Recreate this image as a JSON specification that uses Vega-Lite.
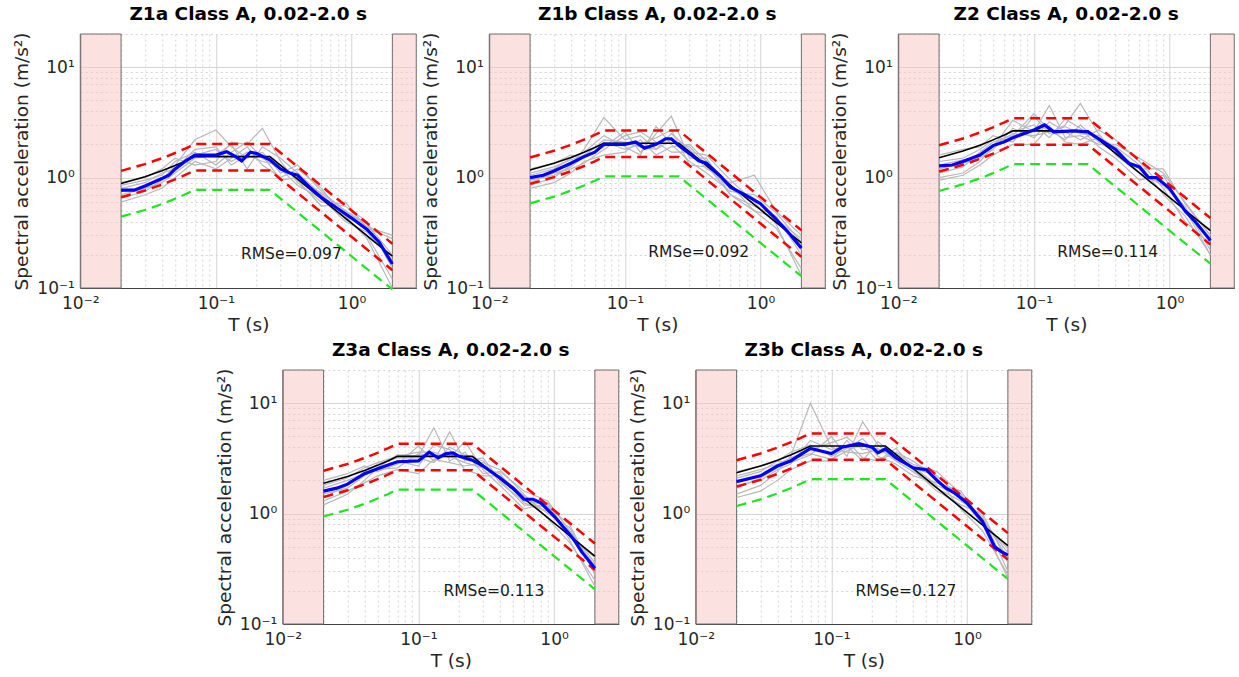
{
"$schema":"https://vega.github.io/schema/vega-lite/v6.json",
"padding":{"top":4,"left":12,"right":0,"bottom":0},
"background":"white",
"config":{"view":{"stroke":null},"font":"DejaVu Sans",
"axis":{"labelFontSize":17,"titleFontSize":18.5,"labelColor":"#262626","titleColor":"#262626","titleFontWeight":"normal","labelPadding":6,"titlePadding":5,"ticks":false,"domainColor":"#404040","labelFlush":false,"labelOverlap":false,"labelBound":false},
"axisX":{"labelPadding":7,"titlePadding":4},
"title":{"fontSize":18.5,"fontWeight":"bold","color":"#000000","offset":2,"anchor":"middle"},
"text":{"font":"DejaVu Sans"}},
"datasets":{
"rect":[{"T":0.01,"T2":0.02,"v":0.1,"v2":20},{"T":2,"T2":3,"v":0.1,"v2":20}],
"txt":[{"p":"Z1a","T":0.36,"v":0.205,"label":"RMSe=0.097"},{"p":"Z1b","T":0.35,"v":0.21,"label":"RMSe=0.092"},{"p":"Z2","T":0.35,"v":0.21,"label":"RMSe=0.114"},{"p":"Z3a","T":0.36,"v":0.2,"label":"RMSe=0.113"},{"p":"Z3b","T":0.355,"v":0.2,"label":"RMSe=0.127"}],
"tgt":[
{"p":"Z1a","T":0.02,"tgt":0.885,"up":1.151,"lo":0.664,"half":0.443},
{"p":"Z1a","T":0.03,"tgt":1.018,"up":1.324,"lo":0.764,"half":0.509},
{"p":"Z1a","T":0.04,"tgt":1.152,"up":1.497,"lo":0.864,"half":0.576},
{"p":"Z1a","T":0.05,"tgt":1.285,"up":1.67,"lo":0.964,"half":0.643},
{"p":"Z1a","T":0.06,"tgt":1.417,"up":1.842,"lo":1.063,"half":0.709},
{"p":"Z1a","T":0.07,"tgt":1.55,"up":2.015,"lo":1.163,"half":0.775},
{"p":"Z1a","T":0.25,"tgt":1.55,"up":2.015,"lo":1.163,"half":0.775},
{"p":"Z1a","T":0.3,"tgt":1.291,"up":1.679,"lo":0.968,"half":0.646},
{"p":"Z1a","T":0.4,"tgt":0.969,"up":1.259,"lo":0.727,"half":0.484},
{"p":"Z1a","T":0.5,"tgt":0.775,"up":1.008,"lo":0.581,"half":0.388},
{"p":"Z1a","T":0.7,"tgt":0.553,"up":0.719,"lo":0.415,"half":0.277},
{"p":"Z1a","T":1.0,"tgt":0.3875,"up":0.504,"lo":0.291,"half":0.194},
{"p":"Z1a","T":1.5,"tgt":0.258,"up":0.336,"lo":0.194,"half":0.129},
{"p":"Z1a","T":2.0,"tgt":0.194,"up":0.252,"lo":0.145,"half":0.097},
{"p":"Z1b","T":0.02,"tgt":1.171,"up":1.522,"lo":0.878,"half":0.585},
{"p":"Z1b","T":0.03,"tgt":1.347,"up":1.751,"lo":1.01,"half":0.673},
{"p":"Z1b","T":0.04,"tgt":1.523,"up":1.98,"lo":1.142,"half":0.762},
{"p":"Z1b","T":0.05,"tgt":1.699,"up":2.209,"lo":1.274,"half":0.85},
{"p":"Z1b","T":0.06,"tgt":1.874,"up":2.436,"lo":1.405,"half":0.937},
{"p":"Z1b","T":0.07,"tgt":2.05,"up":2.665,"lo":1.538,"half":1.025},
{"p":"Z1b","T":0.25,"tgt":2.05,"up":2.665,"lo":1.538,"half":1.025},
{"p":"Z1b","T":0.3,"tgt":1.708,"up":2.22,"lo":1.281,"half":0.854},
{"p":"Z1b","T":0.4,"tgt":1.281,"up":1.666,"lo":0.961,"half":0.641},
{"p":"Z1b","T":0.5,"tgt":1.025,"up":1.333,"lo":0.769,"half":0.513},
{"p":"Z1b","T":0.7,"tgt":0.732,"up":0.951,"lo":0.549,"half":0.366},
{"p":"Z1b","T":1.0,"tgt":0.5125,"up":0.666,"lo":0.384,"half":0.256},
{"p":"Z1b","T":1.5,"tgt":0.342,"up":0.444,"lo":0.256,"half":0.171},
{"p":"Z1b","T":2.0,"tgt":0.256,"up":0.333,"lo":0.192,"half":0.128},
{"p":"Z2","T":0.02,"tgt":1.513,"up":1.967,"lo":1.135,"half":0.757},
{"p":"Z2","T":0.03,"tgt":1.741,"up":2.264,"lo":1.306,"half":0.871},
{"p":"Z2","T":0.04,"tgt":1.969,"up":2.56,"lo":1.477,"half":0.985},
{"p":"Z2","T":0.05,"tgt":2.197,"up":2.856,"lo":1.648,"half":1.098},
{"p":"Z2","T":0.06,"tgt":2.422,"up":3.149,"lo":1.817,"half":1.211},
{"p":"Z2","T":0.07,"tgt":2.65,"up":3.445,"lo":1.988,"half":1.325},
{"p":"Z2","T":0.25,"tgt":2.65,"up":3.445,"lo":1.988,"half":1.325},
{"p":"Z2","T":0.3,"tgt":2.207,"up":2.87,"lo":1.655,"half":1.104},
{"p":"Z2","T":0.4,"tgt":1.656,"up":2.153,"lo":1.242,"half":0.828},
{"p":"Z2","T":0.5,"tgt":1.325,"up":1.723,"lo":0.994,"half":0.663},
{"p":"Z2","T":0.7,"tgt":0.946,"up":1.23,"lo":0.71,"half":0.473},
{"p":"Z2","T":1.0,"tgt":0.6625,"up":0.861,"lo":0.497,"half":0.331},
{"p":"Z2","T":1.5,"tgt":0.442,"up":0.574,"lo":0.331,"half":0.221},
{"p":"Z2","T":2.0,"tgt":0.331,"up":0.431,"lo":0.248,"half":0.166},
{"p":"Z3a","T":0.02,"tgt":1.884,"up":2.449,"lo":1.413,"half":0.942},
{"p":"Z3a","T":0.03,"tgt":2.168,"up":2.818,"lo":1.626,"half":1.084},
{"p":"Z3a","T":0.04,"tgt":2.452,"up":3.187,"lo":1.839,"half":1.226},
{"p":"Z3a","T":0.05,"tgt":2.736,"up":3.556,"lo":2.052,"half":1.368},
{"p":"Z3a","T":0.06,"tgt":3.016,"up":3.921,"lo":2.262,"half":1.508},
{"p":"Z3a","T":0.07,"tgt":3.3,"up":4.29,"lo":2.475,"half":1.65},
{"p":"Z3a","T":0.25,"tgt":3.3,"up":4.29,"lo":2.475,"half":1.65},
{"p":"Z3a","T":0.3,"tgt":2.749,"up":3.573,"lo":2.062,"half":1.374},
{"p":"Z3a","T":0.4,"tgt":2.063,"up":2.681,"lo":1.547,"half":1.031},
{"p":"Z3a","T":0.5,"tgt":1.65,"up":2.145,"lo":1.238,"half":0.825},
{"p":"Z3a","T":0.7,"tgt":1.178,"up":1.532,"lo":0.884,"half":0.589},
{"p":"Z3a","T":1.0,"tgt":0.825,"up":1.073,"lo":0.619,"half":0.4125},
{"p":"Z3a","T":1.5,"tgt":0.55,"up":0.715,"lo":0.413,"half":0.275},
{"p":"Z3a","T":2.0,"tgt":0.4125,"up":0.536,"lo":0.309,"half":0.206},
{"p":"Z3b","T":0.02,"tgt":2.341,"up":3.043,"lo":1.756,"half":1.171},
{"p":"Z3b","T":0.03,"tgt":2.694,"up":3.502,"lo":2.02,"half":1.347},
{"p":"Z3b","T":0.04,"tgt":3.046,"up":3.96,"lo":2.285,"half":1.523},
{"p":"Z3b","T":0.05,"tgt":3.399,"up":4.418,"lo":2.549,"half":1.699},
{"p":"Z3b","T":0.06,"tgt":3.747,"up":4.872,"lo":2.81,"half":1.874},
{"p":"Z3b","T":0.07,"tgt":4.1,"up":5.33,"lo":3.075,"half":2.05},
{"p":"Z3b","T":0.25,"tgt":4.1,"up":5.33,"lo":3.075,"half":2.05},
{"p":"Z3b","T":0.3,"tgt":3.415,"up":4.44,"lo":2.561,"half":1.708},
{"p":"Z3b","T":0.4,"tgt":2.563,"up":3.331,"lo":1.922,"half":1.281},
{"p":"Z3b","T":0.5,"tgt":2.05,"up":2.665,"lo":1.538,"half":1.025},
{"p":"Z3b","T":0.7,"tgt":1.464,"up":1.903,"lo":1.098,"half":0.732},
{"p":"Z3b","T":1.0,"tgt":1.025,"up":1.333,"lo":0.769,"half":0.5125},
{"p":"Z3b","T":1.5,"tgt":0.683,"up":0.888,"lo":0.513,"half":0.342},
{"p":"Z3b","T":2.0,"tgt":0.5125,"up":0.666,"lo":0.384,"half":0.256}
],
"mean":[
{"p":"Z1a","T":0.02,"v":0.77},{"p":"Z1a","T":0.025,"v":0.77},{"p":"Z1a","T":0.03,"v":0.84},{"p":"Z1a","T":0.04,"v":0.98},{"p":"Z1a","T":0.045,"v":1.05},{"p":"Z1a","T":0.05,"v":1.2},{"p":"Z1a","T":0.06,"v":1.42},{"p":"Z1a","T":0.07,"v":1.6},{"p":"Z1a","T":0.1,"v":1.6},{"p":"Z1a","T":0.12,"v":1.72},{"p":"Z1a","T":0.14,"v":1.55},{"p":"Z1a","T":0.155,"v":1.42},{"p":"Z1a","T":0.18,"v":1.7},{"p":"Z1a","T":0.2,"v":1.65},{"p":"Z1a","T":0.25,"v":1.45},{"p":"Z1a","T":0.3,"v":1.2},{"p":"Z1a","T":0.35,"v":1.1},{"p":"Z1a","T":0.4,"v":1.05},{"p":"Z1a","T":0.5,"v":0.8},{"p":"Z1a","T":0.6,"v":0.66},{"p":"Z1a","T":0.8,"v":0.52},{"p":"Z1a","T":1.0,"v":0.43},{"p":"Z1a","T":1.3,"v":0.34},{"p":"Z1a","T":1.6,"v":0.26},{"p":"Z1a","T":2.0,"v":0.165},
{"p":"Z1b","T":0.02,"v":1.0},{"p":"Z1b","T":0.025,"v":1.05},{"p":"Z1b","T":0.03,"v":1.15},{"p":"Z1b","T":0.04,"v":1.35},{"p":"Z1b","T":0.05,"v":1.55},{"p":"Z1b","T":0.06,"v":1.7},{"p":"Z1b","T":0.07,"v":2.0},{"p":"Z1b","T":0.1,"v":2.0},{"p":"Z1b","T":0.12,"v":2.1},{"p":"Z1b","T":0.14,"v":1.85},{"p":"Z1b","T":0.17,"v":2.0},{"p":"Z1b","T":0.2,"v":2.25},{"p":"Z1b","T":0.22,"v":2.25},{"p":"Z1b","T":0.25,"v":1.95},{"p":"Z1b","T":0.3,"v":1.65},{"p":"Z1b","T":0.35,"v":1.42},{"p":"Z1b","T":0.4,"v":1.35},{"p":"Z1b","T":0.5,"v":1.05},{"p":"Z1b","T":0.6,"v":0.82},{"p":"Z1b","T":0.8,"v":0.68},{"p":"Z1b","T":1.0,"v":0.58},{"p":"Z1b","T":1.3,"v":0.42},{"p":"Z1b","T":1.6,"v":0.32},{"p":"Z1b","T":2.0,"v":0.23},
{"p":"Z2","T":0.02,"v":1.28},{"p":"Z2","T":0.025,"v":1.3},{"p":"Z2","T":0.03,"v":1.4},{"p":"Z2","T":0.04,"v":1.6},{"p":"Z2","T":0.05,"v":1.95},{"p":"Z2","T":0.06,"v":2.1},{"p":"Z2","T":0.07,"v":2.3},{"p":"Z2","T":0.1,"v":2.7},{"p":"Z2","T":0.12,"v":3.0},{"p":"Z2","T":0.14,"v":2.6},{"p":"Z2","T":0.2,"v":2.65},{"p":"Z2","T":0.25,"v":2.6},{"p":"Z2","T":0.3,"v":2.25},{"p":"Z2","T":0.4,"v":1.8},{"p":"Z2","T":0.5,"v":1.35},{"p":"Z2","T":0.6,"v":1.25},{"p":"Z2","T":0.7,"v":1.0},{"p":"Z2","T":0.8,"v":1.0},{"p":"Z2","T":1.0,"v":0.8},{"p":"Z2","T":1.3,"v":0.5},{"p":"Z2","T":1.6,"v":0.38},{"p":"Z2","T":2.0,"v":0.27},
{"p":"Z3a","T":0.02,"v":1.6},{"p":"Z3a","T":0.025,"v":1.7},{"p":"Z3a","T":0.03,"v":1.85},{"p":"Z3a","T":0.04,"v":2.3},{"p":"Z3a","T":0.05,"v":2.55},{"p":"Z3a","T":0.07,"v":2.95},{"p":"Z3a","T":0.1,"v":3.0},{"p":"Z3a","T":0.12,"v":3.6},{"p":"Z3a","T":0.14,"v":3.2},{"p":"Z3a","T":0.16,"v":3.5},{"p":"Z3a","T":0.18,"v":3.55},{"p":"Z3a","T":0.2,"v":3.3},{"p":"Z3a","T":0.25,"v":3.05},{"p":"Z3a","T":0.3,"v":2.7},{"p":"Z3a","T":0.4,"v":2.1},{"p":"Z3a","T":0.5,"v":1.7},{"p":"Z3a","T":0.6,"v":1.35},{"p":"Z3a","T":0.7,"v":1.35},{"p":"Z3a","T":0.8,"v":1.25},{"p":"Z3a","T":1.0,"v":0.95},{"p":"Z3a","T":1.3,"v":0.65},{"p":"Z3a","T":1.4,"v":0.58},{"p":"Z3a","T":1.6,"v":0.45},{"p":"Z3a","T":2.0,"v":0.32},
{"p":"Z3b","T":0.02,"v":1.95},{"p":"Z3b","T":0.03,"v":2.2},{"p":"Z3b","T":0.04,"v":2.7},{"p":"Z3b","T":0.05,"v":3.0},{"p":"Z3b","T":0.07,"v":3.9},{"p":"Z3b","T":0.1,"v":3.5},{"p":"Z3b","T":0.12,"v":4.0},{"p":"Z3b","T":0.16,"v":4.3},{"p":"Z3b","T":0.2,"v":4.0},{"p":"Z3b","T":0.22,"v":3.55},{"p":"Z3b","T":0.25,"v":3.85},{"p":"Z3b","T":0.3,"v":3.2},{"p":"Z3b","T":0.4,"v":2.6},{"p":"Z3b","T":0.5,"v":2.5},{"p":"Z3b","T":0.6,"v":2.0},{"p":"Z3b","T":0.7,"v":1.7},{"p":"Z3b","T":0.8,"v":1.55},{"p":"Z3b","T":1.0,"v":1.25},{"p":"Z3b","T":1.3,"v":0.85},{"p":"Z3b","T":1.6,"v":0.5},{"p":"Z3b","T":1.8,"v":0.45},{"p":"Z3b","T":2.0,"v":0.42}
],
"gray":[
{"p":"Z1a","T":0.02,"a":0.65,"b":0.9,"c":0.6,"d":0.8,"e":0.7,"f":0.85,"g":0.75},
{"p":"Z1a","T":0.03,"a":0.75,"b":1.0,"c":0.7,"d":0.9,"e":0.8,"f":0.95,"g":0.8},
{"p":"Z1a","T":0.04,"a":0.95,"b":1.2,"c":0.8,"d":1.1,"e":0.9,"f":1.05,"g":1.0},
{"p":"Z1a","T":0.05,"a":1.3,"b":1.5,"c":1.0,"d":1.2,"e":1.1,"f":1.4,"g":1.15},
{"p":"Z1a","T":0.07,"a":2.2,"b":1.3,"c":1.4,"d":1.8,"e":1.5,"f":1.7,"g":1.6},
{"p":"Z1a","T":0.1,"a":2.7,"b":1.4,"c":1.2,"d":1.9,"e":1.6,"f":1.3,"g":1.8},
{"p":"Z1a","T":0.13,"a":1.9,"b":2.1,"c":1.5,"d":1.3,"e":2.0,"f":1.7,"g":1.4},
{"p":"Z1a","T":0.17,"a":1.5,"b":2.0,"c":1.9,"d":1.6,"e":1.2,"f":2.1,"g":1.7},
{"p":"Z1a","T":0.22,"a":1.7,"b":2.8,"c":1.3,"d":1.4,"e":1.9,"f":1.5,"g":1.6},
{"p":"Z1a","T":0.3,"a":1.1,"b":1.4,"c":1.0,"d":1.3,"e":1.5,"f":1.2,"g":0.95},
{"p":"Z1a","T":0.4,"a":1.3,"b":0.9,"c":1.2,"d":0.95,"e":1.1,"f":0.85,"g":1.0},
{"p":"Z1a","T":0.6,"a":0.75,"b":0.6,"c":0.8,"d":0.55,"e":0.7,"f":0.65,"g":0.72},
{"p":"Z1a","T":0.9,"a":0.5,"b":0.55,"c":0.42,"d":0.6,"e":0.45,"f":0.4,"g":0.5},
{"p":"Z1a","T":1.3,"a":0.38,"b":0.4,"c":0.3,"d":0.35,"e":0.28,"f":0.32,"g":0.36},
{"p":"Z1a","T":2.0,"a":0.2,"b":0.15,"c":0.12,"d":0.28,"e":0.1,"f":0.18,"g":0.3},
{"p":"Z1b","T":0.02,"a":0.85,"b":1.2,"c":0.8,"d":1.05,"e":0.9,"f":1.1,"g":0.95},
{"p":"Z1b","T":0.03,"a":1.0,"b":1.35,"c":0.9,"d":1.2,"e":1.1,"f":1.25,"g":1.05},
{"p":"Z1b","T":0.04,"a":1.3,"b":1.6,"c":1.1,"d":1.5,"e":1.2,"f":1.45,"g":1.25},
{"p":"Z1b","T":0.05,"a":1.8,"b":1.5,"c":1.4,"d":1.7,"e":1.35,"f":1.6,"g":1.55},
{"p":"Z1b","T":0.07,"a":3.5,"b":1.9,"c":1.6,"d":2.4,"e":1.8,"f":2.1,"g":2.2},
{"p":"Z1b","T":0.1,"a":2.2,"b":2.6,"c":1.7,"d":1.9,"e":2.4,"f":1.8,"g":2.1},
{"p":"Z1b","T":0.13,"a":2.4,"b":1.7,"c":2.2,"d":1.6,"e":2.6,"f":2.0,"g":1.9},
{"p":"Z1b","T":0.17,"a":1.8,"b":2.5,"c":1.6,"d":2.9,"e":2.1,"f":2.3,"g":1.8},
{"p":"Z1b","T":0.22,"a":2.5,"b":3.6,"c":1.9,"d":2.0,"e":1.7,"f":2.7,"g":2.2},
{"p":"Z1b","T":0.3,"a":1.8,"b":1.5,"c":2.0,"d":1.4,"e":1.7,"f":1.3,"g":1.9},
{"p":"Z1b","T":0.4,"a":1.2,"b":1.5,"c":1.4,"d":1.1,"e":1.6,"f":1.25,"g":1.3},
{"p":"Z1b","T":0.6,"a":0.9,"b":0.7,"c":0.85,"d":0.75,"e":0.95,"f":0.8,"g":0.7},
{"p":"Z1b","T":0.9,"a":1.05,"b":0.55,"c":0.5,"d":0.7,"e":0.6,"f":0.65,"g":0.5},
{"p":"Z1b","T":1.3,"a":0.5,"b":0.45,"c":0.35,"d":0.48,"e":0.38,"f":0.42,"g":0.44},
{"p":"Z1b","T":2.0,"a":0.3,"b":0.2,"c":0.15,"d":0.26,"e":0.13,"f":0.28,"g":0.22},
{"p":"Z2","T":0.02,"a":1.0,"b":1.6,"c":0.95,"d":1.4,"e":1.2,"f":1.1,"g":1.3},
{"p":"Z2","T":0.03,"a":1.1,"b":1.8,"c":1.05,"d":1.5,"e":1.35,"f":1.25,"g":1.45},
{"p":"Z2","T":0.04,"a":1.4,"b":1.9,"c":1.3,"d":1.8,"e":1.5,"f":1.7,"g":1.55},
{"p":"Z2","T":0.05,"a":1.9,"b":2.4,"c":1.6,"d":2.2,"e":1.8,"f":2.1,"g":2.0},
{"p":"Z2","T":0.07,"a":3.3,"b":2.1,"c":2.0,"d":2.6,"e":2.8,"f":2.4,"g":2.5},
{"p":"Z2","T":0.1,"a":2.6,"b":3.6,"c":2.0,"d":3.0,"e":2.3,"f":3.8,"g":2.4},
{"p":"Z2","T":0.13,"a":4.5,"b":2.5,"c":2.9,"d":2.3,"e":3.2,"f":2.7,"g":2.6},
{"p":"Z2","T":0.17,"a":2.3,"b":3.0,"c":2.1,"d":3.4,"e":2.6,"f":2.2,"g":2.9},
{"p":"Z2","T":0.22,"a":2.4,"b":4.7,"c":2.0,"d":2.8,"e":2.2,"f":3.0,"g":2.5},
{"p":"Z2","T":0.3,"a":2.0,"b":2.5,"c":2.3,"d":1.9,"e":2.7,"f":2.1,"g":2.4},
{"p":"Z2","T":0.4,"a":2.0,"b":1.6,"c":1.9,"d":1.5,"e":2.2,"f":1.7,"g":1.8},
{"p":"Z2","T":0.6,"a":1.5,"b":1.1,"c":1.3,"d":0.95,"e":1.4,"f":1.2,"g":1.1},
{"p":"Z2","T":0.9,"a":1.1,"b":0.85,"c":0.7,"d":1.05,"e":0.8,"f":1.2,"g":0.9},
{"p":"Z2","T":1.3,"a":0.6,"b":0.55,"c":0.45,"d":0.48,"e":0.4,"f":0.58,"g":0.52},
{"p":"Z2","T":2.0,"a":0.3,"b":0.22,"c":0.2,"d":0.34,"e":0.25,"f":0.3,"g":0.2},
{"p":"Z3a","T":0.02,"a":1.2,"b":2.0,"c":1.3,"d":1.8,"e":1.5,"f":1.4,"g":1.7},
{"p":"Z3a","T":0.03,"a":1.5,"b":2.3,"c":1.6,"d":2.1,"e":1.7,"f":1.8,"g":2.0},
{"p":"Z3a","T":0.04,"a":2.0,"b":2.7,"c":1.9,"d":2.6,"e":2.2,"f":2.4,"g":2.3},
{"p":"Z3a","T":0.05,"a":2.6,"b":2.4,"c":2.2,"d":2.9,"e":2.6,"f":2.8,"g":2.5},
{"p":"Z3a","T":0.07,"a":3.4,"b":2.8,"c":2.5,"d":3.3,"e":3.0,"f":3.2,"g":2.6},
{"p":"Z3a","T":0.1,"a":3.3,"b":4.1,"c":2.3,"d":3.6,"e":2.7,"f":3.2,"g":3.5},
{"p":"Z3a","T":0.13,"a":6.0,"b":3.0,"c":3.1,"d":3.6,"e":4.2,"f":2.9,"g":3.3},
{"p":"Z3a","T":0.17,"a":3.0,"b":5.5,"c":2.9,"d":3.2,"e":3.8,"f":4.0,"g":3.3},
{"p":"Z3a","T":0.22,"a":3.6,"b":3.0,"c":2.7,"d":4.5,"e":2.5,"f":3.4,"g":2.9},
{"p":"Z3a","T":0.3,"a":2.3,"b":3.2,"c":2.9,"d":2.5,"e":2.2,"f":3.0,"g":2.6},
{"p":"Z3a","T":0.4,"a":2.4,"b":2.0,"c":2.5,"d":1.8,"e":2.2,"f":1.9,"g":2.3},
{"p":"Z3a","T":0.6,"a":1.6,"b":1.2,"c":1.5,"d":1.1,"e":1.45,"f":1.3,"g":1.25},
{"p":"Z3a","T":0.9,"a":1.3,"b":1.15,"c":0.9,"d":1.25,"e":1.0,"f":1.2,"g":1.05},
{"p":"Z3a","T":1.3,"a":0.7,"b":0.8,"c":0.55,"d":0.62,"e":0.75,"f":0.58,"g":0.68},
{"p":"Z3a","T":2.0,"a":0.36,"b":0.28,"c":0.25,"d":0.4,"e":0.3,"f":0.22,"g":0.34},
{"p":"Z3b","T":0.02,"a":1.5,"b":2.4,"c":1.4,"d":2.1,"e":1.8,"f":1.7,"g":2.2},
{"p":"Z3b","T":0.03,"a":1.8,"b":2.7,"c":1.6,"d":2.4,"e":2.0,"f":2.1,"g":2.5},
{"p":"Z3b","T":0.04,"a":2.4,"b":3.0,"c":2.0,"d":3.0,"e":2.5,"f":2.6,"g":2.8},
{"p":"Z3b","T":0.05,"a":3.3,"b":2.9,"c":2.5,"d":3.6,"e":2.8,"f":3.1,"g":3.2},
{"p":"Z3b","T":0.07,"a":10.0,"b":3.4,"c":3.0,"d":4.2,"e":4.6,"f":3.5,"g":3.8},
{"p":"Z3b","T":0.1,"a":4.0,"b":5.0,"c":3.0,"d":3.3,"e":3.8,"f":3.1,"g":4.4},
{"p":"Z3b","T":0.13,"a":3.6,"b":3.3,"c":4.6,"d":3.9,"e":4.1,"f":3.7,"g":4.9},
{"p":"Z3b","T":0.17,"a":3.5,"b":6.8,"c":3.2,"d":4.8,"e":3.0,"f":4.3,"g":3.8},
{"p":"Z3b","T":0.22,"a":3.8,"b":4.2,"c":3.0,"d":3.3,"e":4.5,"f":3.0,"g":3.9},
{"p":"Z3b","T":0.3,"a":3.5,"b":3.0,"c":3.6,"d":2.8,"e":3.3,"f":3.9,"g":3.0},
{"p":"Z3b","T":0.4,"a":2.8,"b":2.4,"c":3.0,"d":2.2,"e":2.5,"f":2.6,"g":2.7},
{"p":"Z3b","T":0.6,"a":2.4,"b":1.7,"c":2.1,"d":1.9,"e":1.6,"f":2.2,"g":1.8},
{"p":"Z3b","T":0.9,"a":1.5,"b":1.3,"c":1.1,"d":1.6,"e":1.2,"f":1.4,"g":1.45},
{"p":"Z3b","T":1.3,"a":0.9,"b":0.95,"c":0.7,"d":0.85,"e":1.0,"f":0.8,"g":0.88},
{"p":"Z3b","T":2.0,"a":0.4,"b":0.3,"c":0.28,"d":0.48,"e":0.36,"f":0.26,"g":0.44}
]
},
"vconcat":[
{"hconcat":[
{"width":336,"height":254,"title":"Z1a Class A, 0.02-2.0 s",
"encoding":{"x":{"field":"T","type":"quantitative","scale":{"type":"log","domain":[0.01,3],"nice":false},"axis":{"title":"T (s)","values":[0.01,0.02,0.03,0.04,0.05,0.06,0.07,0.08,0.09,0.1,0.2,0.3,0.4,0.5,0.6,0.7,0.8,0.9,1,2,3],"labelExpr":"datum.value==0.01?'10⁻²':datum.value==0.1?'10⁻¹':datum.value==1?'10⁰':''","grid":true,"gridColor":"#d4d4d4","gridDash":{"condition":{"test":"datum.value==0.01||datum.value==0.1||datum.value==1","value":[]},"value":[2,3]}}},
"y":{"field":"v","type":"quantitative","scale":{"type":"log","domain":[0.1,20],"nice":false},"axis":{"title":"Spectral acceleration (m/s²)","values":[0.1,0.2,0.3,0.4,0.5,0.6,0.7,0.8,0.9,1,2,3,4,5,6,7,8,9,10,20],"labelExpr":"datum.value==0.1?'10⁻¹':datum.value==1?'10⁰':datum.value==10?'10¹':''","grid":true,"gridColor":"#d4d4d4","gridDash":{"condition":{"test":"datum.value==0.1||datum.value==1||datum.value==10","value":[]},"value":[2,3]}}}},
"layer":[
{"data":{"name":"rect"},"mark":{"type":"rect","fill":"#f9c4c4","fillOpacity":0.5,"stroke":"#707070","strokeWidth":1},"encoding":{"x2":{"field":"T2"},"y2":{"field":"v2"}}},
{"data":{"name":"gray"},"transform":[{"filter":"datum.p=='Z1a'"},{"fold":["a","b","c","d","e","f","g"],"as":["k","v"]}],"mark":{"type":"line","color":"#b8b8b8","strokeWidth":1.2},"encoding":{"detail":{"field":"k"}}},
{"data":{"name":"tgt"},"transform":[{"filter":"datum.p=='Z1a'"},{"fold":["tgt"],"as":["k","v"]}],"mark":{"type":"line","color":"#000000","strokeWidth":1.6}},
{"data":{"name":"tgt"},"transform":[{"filter":"datum.p=='Z1a'"},{"fold":["up","lo"],"as":["k","v"]}],"mark":{"type":"line","color":"#ff0000","strokeWidth":2.5,"strokeDash":[10,6]},"encoding":{"detail":{"field":"k"}}},
{"data":{"name":"tgt"},"transform":[{"filter":"datum.p=='Z1a'"},{"fold":["half"],"as":["k","v"]}],"mark":{"type":"line","color":"#1ee61e","strokeWidth":2.2,"strokeDash":[10,6]}},
{"data":{"name":"mean"},"transform":[{"filter":"datum.p=='Z1a'"}],"mark":{"type":"line","color":"#0000ff","strokeWidth":3.2}},
{"data":{"name":"txt"},"transform":[{"filter":"datum.p=='Z1a'"}],"mark":{"type":"text","fontSize":15.5,"color":"#1a1a1a"},"encoding":{"text":{"field":"label"}}}
]},
{"width":336,"height":254,"title":"Z1b Class A, 0.02-2.0 s",
"encoding":{"x":{"field":"T","type":"quantitative","scale":{"type":"log","domain":[0.01,3],"nice":false},"axis":{"title":"T (s)","values":[0.01,0.02,0.03,0.04,0.05,0.06,0.07,0.08,0.09,0.1,0.2,0.3,0.4,0.5,0.6,0.7,0.8,0.9,1,2,3],"labelExpr":"datum.value==0.01?'10⁻²':datum.value==0.1?'10⁻¹':datum.value==1?'10⁰':''","grid":true,"gridColor":"#d4d4d4","gridDash":{"condition":{"test":"datum.value==0.01||datum.value==0.1||datum.value==1","value":[]},"value":[2,3]}}},
"y":{"field":"v","type":"quantitative","scale":{"type":"log","domain":[0.1,20],"nice":false},"axis":{"title":"Spectral acceleration (m/s²)","values":[0.1,0.2,0.3,0.4,0.5,0.6,0.7,0.8,0.9,1,2,3,4,5,6,7,8,9,10,20],"labelExpr":"datum.value==0.1?'10⁻¹':datum.value==1?'10⁰':datum.value==10?'10¹':''","grid":true,"gridColor":"#d4d4d4","gridDash":{"condition":{"test":"datum.value==0.1||datum.value==1||datum.value==10","value":[]},"value":[2,3]}}}},
"layer":[
{"data":{"name":"rect"},"mark":{"type":"rect","fill":"#f9c4c4","fillOpacity":0.5,"stroke":"#707070","strokeWidth":1},"encoding":{"x2":{"field":"T2"},"y2":{"field":"v2"}}},
{"data":{"name":"gray"},"transform":[{"filter":"datum.p=='Z1b'"},{"fold":["a","b","c","d","e","f","g"],"as":["k","v"]}],"mark":{"type":"line","color":"#b8b8b8","strokeWidth":1.2},"encoding":{"detail":{"field":"k"}}},
{"data":{"name":"tgt"},"transform":[{"filter":"datum.p=='Z1b'"},{"fold":["tgt"],"as":["k","v"]}],"mark":{"type":"line","color":"#000000","strokeWidth":1.6}},
{"data":{"name":"tgt"},"transform":[{"filter":"datum.p=='Z1b'"},{"fold":["up","lo"],"as":["k","v"]}],"mark":{"type":"line","color":"#ff0000","strokeWidth":2.5,"strokeDash":[10,6]},"encoding":{"detail":{"field":"k"}}},
{"data":{"name":"tgt"},"transform":[{"filter":"datum.p=='Z1b'"},{"fold":["half"],"as":["k","v"]}],"mark":{"type":"line","color":"#1ee61e","strokeWidth":2.2,"strokeDash":[10,6]}},
{"data":{"name":"mean"},"transform":[{"filter":"datum.p=='Z1b'"}],"mark":{"type":"line","color":"#0000ff","strokeWidth":3.2}},
{"data":{"name":"txt"},"transform":[{"filter":"datum.p=='Z1b'"}],"mark":{"type":"text","fontSize":15.5,"color":"#1a1a1a"},"encoding":{"text":{"field":"label"}}}
]},
{"width":336,"height":254,"title":"Z2 Class A, 0.02-2.0 s",
"encoding":{"x":{"field":"T","type":"quantitative","scale":{"type":"log","domain":[0.01,3],"nice":false},"axis":{"title":"T (s)","values":[0.01,0.02,0.03,0.04,0.05,0.06,0.07,0.08,0.09,0.1,0.2,0.3,0.4,0.5,0.6,0.7,0.8,0.9,1,2,3],"labelExpr":"datum.value==0.01?'10⁻²':datum.value==0.1?'10⁻¹':datum.value==1?'10⁰':''","grid":true,"gridColor":"#d4d4d4","gridDash":{"condition":{"test":"datum.value==0.01||datum.value==0.1||datum.value==1","value":[]},"value":[2,3]}}},
"y":{"field":"v","type":"quantitative","scale":{"type":"log","domain":[0.1,20],"nice":false},"axis":{"title":"Spectral acceleration (m/s²)","values":[0.1,0.2,0.3,0.4,0.5,0.6,0.7,0.8,0.9,1,2,3,4,5,6,7,8,9,10,20],"labelExpr":"datum.value==0.1?'10⁻¹':datum.value==1?'10⁰':datum.value==10?'10¹':''","grid":true,"gridColor":"#d4d4d4","gridDash":{"condition":{"test":"datum.value==0.1||datum.value==1||datum.value==10","value":[]},"value":[2,3]}}}},
"layer":[
{"data":{"name":"rect"},"mark":{"type":"rect","fill":"#f9c4c4","fillOpacity":0.5,"stroke":"#707070","strokeWidth":1},"encoding":{"x2":{"field":"T2"},"y2":{"field":"v2"}}},
{"data":{"name":"gray"},"transform":[{"filter":"datum.p=='Z2'"},{"fold":["a","b","c","d","e","f","g"],"as":["k","v"]}],"mark":{"type":"line","color":"#b8b8b8","strokeWidth":1.2},"encoding":{"detail":{"field":"k"}}},
{"data":{"name":"tgt"},"transform":[{"filter":"datum.p=='Z2'"},{"fold":["tgt"],"as":["k","v"]}],"mark":{"type":"line","color":"#000000","strokeWidth":1.6}},
{"data":{"name":"tgt"},"transform":[{"filter":"datum.p=='Z2'"},{"fold":["up","lo"],"as":["k","v"]}],"mark":{"type":"line","color":"#ff0000","strokeWidth":2.5,"strokeDash":[10,6]},"encoding":{"detail":{"field":"k"}}},
{"data":{"name":"tgt"},"transform":[{"filter":"datum.p=='Z2'"},{"fold":["half"],"as":["k","v"]}],"mark":{"type":"line","color":"#1ee61e","strokeWidth":2.2,"strokeDash":[10,6]}},
{"data":{"name":"mean"},"transform":[{"filter":"datum.p=='Z2'"}],"mark":{"type":"line","color":"#0000ff","strokeWidth":3.2}},
{"data":{"name":"txt"},"transform":[{"filter":"datum.p=='Z2'"}],"mark":{"type":"text","fontSize":15.5,"color":"#1a1a1a"},"encoding":{"text":{"field":"label"}}}
]}
],"spacing":4},
{"hconcat":[
{"width":336,"height":254,"title":"Z3a Class A, 0.02-2.0 s",
"encoding":{"x":{"field":"T","type":"quantitative","scale":{"type":"log","domain":[0.01,3],"nice":false},"axis":{"title":"T (s)","values":[0.01,0.02,0.03,0.04,0.05,0.06,0.07,0.08,0.09,0.1,0.2,0.3,0.4,0.5,0.6,0.7,0.8,0.9,1,2,3],"labelExpr":"datum.value==0.01?'10⁻²':datum.value==0.1?'10⁻¹':datum.value==1?'10⁰':''","grid":true,"gridColor":"#d4d4d4","gridDash":{"condition":{"test":"datum.value==0.01||datum.value==0.1||datum.value==1","value":[]},"value":[2,3]}}},
"y":{"field":"v","type":"quantitative","scale":{"type":"log","domain":[0.1,20],"nice":false},"axis":{"title":"Spectral acceleration (m/s²)","values":[0.1,0.2,0.3,0.4,0.5,0.6,0.7,0.8,0.9,1,2,3,4,5,6,7,8,9,10,20],"labelExpr":"datum.value==0.1?'10⁻¹':datum.value==1?'10⁰':datum.value==10?'10¹':''","grid":true,"gridColor":"#d4d4d4","gridDash":{"condition":{"test":"datum.value==0.1||datum.value==1||datum.value==10","value":[]},"value":[2,3]}}}},
"layer":[
{"data":{"name":"rect"},"mark":{"type":"rect","fill":"#f9c4c4","fillOpacity":0.5,"stroke":"#707070","strokeWidth":1},"encoding":{"x2":{"field":"T2"},"y2":{"field":"v2"}}},
{"data":{"name":"gray"},"transform":[{"filter":"datum.p=='Z3a'"},{"fold":["a","b","c","d","e","f","g"],"as":["k","v"]}],"mark":{"type":"line","color":"#b8b8b8","strokeWidth":1.2},"encoding":{"detail":{"field":"k"}}},
{"data":{"name":"tgt"},"transform":[{"filter":"datum.p=='Z3a'"},{"fold":["tgt"],"as":["k","v"]}],"mark":{"type":"line","color":"#000000","strokeWidth":1.6}},
{"data":{"name":"tgt"},"transform":[{"filter":"datum.p=='Z3a'"},{"fold":["up","lo"],"as":["k","v"]}],"mark":{"type":"line","color":"#ff0000","strokeWidth":2.5,"strokeDash":[10,6]},"encoding":{"detail":{"field":"k"}}},
{"data":{"name":"tgt"},"transform":[{"filter":"datum.p=='Z3a'"},{"fold":["half"],"as":["k","v"]}],"mark":{"type":"line","color":"#1ee61e","strokeWidth":2.2,"strokeDash":[10,6]}},
{"data":{"name":"mean"},"transform":[{"filter":"datum.p=='Z3a'"}],"mark":{"type":"line","color":"#0000ff","strokeWidth":3.2}},
{"data":{"name":"txt"},"transform":[{"filter":"datum.p=='Z3a'"}],"mark":{"type":"text","fontSize":15.5,"color":"#1a1a1a"},"encoding":{"text":{"field":"label"}}}
]},
{"width":336,"height":254,"title":"Z3b Class A, 0.02-2.0 s",
"encoding":{"x":{"field":"T","type":"quantitative","scale":{"type":"log","domain":[0.01,3],"nice":false},"axis":{"title":"T (s)","values":[0.01,0.02,0.03,0.04,0.05,0.06,0.07,0.08,0.09,0.1,0.2,0.3,0.4,0.5,0.6,0.7,0.8,0.9,1,2,3],"labelExpr":"datum.value==0.01?'10⁻²':datum.value==0.1?'10⁻¹':datum.value==1?'10⁰':''","grid":true,"gridColor":"#d4d4d4","gridDash":{"condition":{"test":"datum.value==0.01||datum.value==0.1||datum.value==1","value":[]},"value":[2,3]}}},
"y":{"field":"v","type":"quantitative","scale":{"type":"log","domain":[0.1,20],"nice":false},"axis":{"title":"Spectral acceleration (m/s²)","values":[0.1,0.2,0.3,0.4,0.5,0.6,0.7,0.8,0.9,1,2,3,4,5,6,7,8,9,10,20],"labelExpr":"datum.value==0.1?'10⁻¹':datum.value==1?'10⁰':datum.value==10?'10¹':''","grid":true,"gridColor":"#d4d4d4","gridDash":{"condition":{"test":"datum.value==0.1||datum.value==1||datum.value==10","value":[]},"value":[2,3]}}}},
"layer":[
{"data":{"name":"rect"},"mark":{"type":"rect","fill":"#f9c4c4","fillOpacity":0.5,"stroke":"#707070","strokeWidth":1},"encoding":{"x2":{"field":"T2"},"y2":{"field":"v2"}}},
{"data":{"name":"gray"},"transform":[{"filter":"datum.p=='Z3b'"},{"fold":["a","b","c","d","e","f","g"],"as":["k","v"]}],"mark":{"type":"line","color":"#b8b8b8","strokeWidth":1.2},"encoding":{"detail":{"field":"k"}}},
{"data":{"name":"tgt"},"transform":[{"filter":"datum.p=='Z3b'"},{"fold":["tgt"],"as":["k","v"]}],"mark":{"type":"line","color":"#000000","strokeWidth":1.6}},
{"data":{"name":"tgt"},"transform":[{"filter":"datum.p=='Z3b'"},{"fold":["up","lo"],"as":["k","v"]}],"mark":{"type":"line","color":"#ff0000","strokeWidth":2.5,"strokeDash":[10,6]},"encoding":{"detail":{"field":"k"}}},
{"data":{"name":"tgt"},"transform":[{"filter":"datum.p=='Z3b'"},{"fold":["half"],"as":["k","v"]}],"mark":{"type":"line","color":"#1ee61e","strokeWidth":2.2,"strokeDash":[10,6]}},
{"data":{"name":"mean"},"transform":[{"filter":"datum.p=='Z3b'"}],"mark":{"type":"line","color":"#0000ff","strokeWidth":3.2}},
{"data":{"name":"txt"},"transform":[{"filter":"datum.p=='Z3b'"}],"mark":{"type":"text","fontSize":15.5,"color":"#1a1a1a"},"encoding":{"text":{"field":"label"}}}
]}
],"spacing":8}
],"spacing":6,"center":true
}
